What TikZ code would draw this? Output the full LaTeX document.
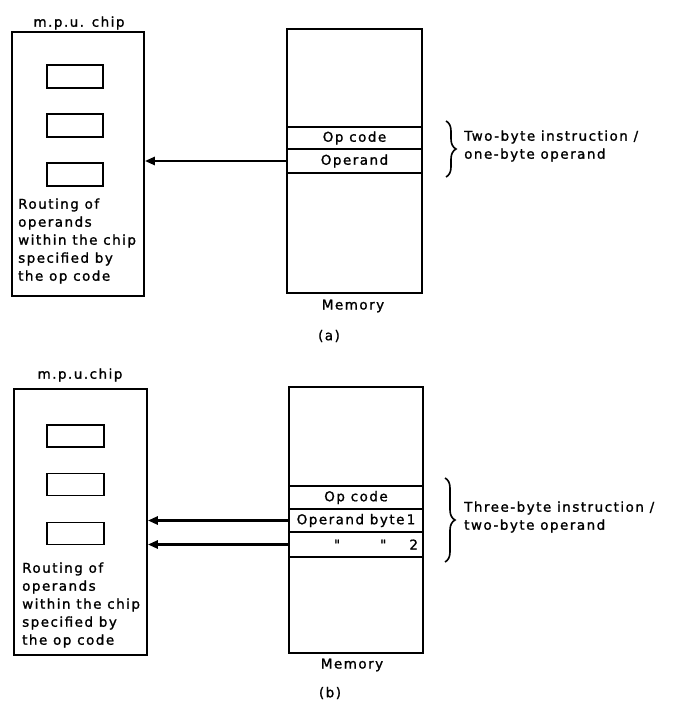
\documentclass[tikz,border=0pt]{standalone}
\usepackage{fontspec}
\newfontfamily\lbl{DejaVu Sans}[LetterSpace=11, FakeBold=1.3]
\usetikzlibrary{arrows.meta,positioning,decorations.pathreplacing}

\begin{document}
\begin{tikzpicture}[x=1pt, y=-1pt, >={Triangle[length=10pt,width=8pt]},
  font=\lbl\fontsize{13.5}{18}\selectfont,
  chip/.style={draw, line width=1.7pt, minimum width=132pt, minimum height=264pt},
  reg/.style={draw, line width=1.7pt, minimum width=56pt, minimum height=23pt},
  mem/.style={draw, line width=1.7pt, minimum width=135pt, minimum height=264pt},
  row/.style={draw, line width=1.7pt, minimum width=135pt, inner sep=0pt},
  note/.style={align=left, anchor=west, inner sep=0pt},
  bus/.style={->, line width=2.6pt},
  brc/.style={decorate, decoration={brace, amplitude=10pt}, line width=1.6pt}]
\useasboundingbox (0,0) rectangle (675,708);

% (a) two-byte instruction
\node (labA) at (79,23) {m.p.u. chip};
\node[chip] (chipA) at (78,164) {};
\node[reg] (rA1) at (75,76.5) {};
\node[reg] (rA2) at (75,125.5) {};
\node[reg] (rA3) at (75,174.5) {};
\node[note] (txtA) at (18,241) {Routing of\\ operands\\ within the chip\\ specified by\\ the op code};
\node[mem] (memA) at (354.5,161) {};
\node[row, minimum height=22pt] (opA) at (354.5,138) {Op code};
\node[row, minimum height=24pt] (oprA) at (354.5,161) {Operand};
\node (memlA) at (353,306) {Memory};
\node (capA) at (329,336) {(a)};
\draw[brc] (446,121) -- (446,177) coordinate (brA);
\node[note] (instA) at (464,146) {Two-byte instruction /\\ one-byte operand};
\draw[bus] (oprA.west) -- (chipA.east |- oprA.west);

% (b) three-byte instruction
\node (labB) at (80,375) {m.p.u.chip};
\node[chip, minimum width=133pt, minimum height=266pt] (chipB) at (80.5,522) {};
\node[reg, minimum width=57pt, minimum height=22pt] (rB1) at (75.5,436) {};
\node[reg, minimum width=57pt, minimum height=22pt] (rB2) at (75.5,484.5) {};
\node[reg, minimum width=57pt, minimum height=22pt] (rB3) at (75.5,533.5) {};
\node[note] (txtB) at (22,605) {Routing of\\ operands\\ within the chip\\ specified by\\ the op code};
\node[mem, minimum width=134pt, minimum height=266pt] (memB) at (356,520) {};
\node[row, minimum width=134pt, minimum height=23pt] (opB) at (356,497.5) {Op code};
\node[row, minimum width=134pt, minimum height=23pt] (b1B) at (356,520.5) {Operand byte\,1};
\node[row, minimum width=134pt, minimum height=25pt, text width=124pt, align=right] (b2B) at (356,544.5)
  {"\hspace{40pt}"\hspace{23pt}2};
\node (memlB) at (352,665) {Memory};
\node (capB) at (330,693) {(b)};
\draw[brc] (445,478) -- (445,562) coordinate (brB);
\node[note] (instB) at (464,517) {Three-byte instruction /\\ two-byte operand};
\draw[bus] (b1B.west) -- (chipB.east |- b1B.west);
\draw[bus] (b2B.west) -- (chipB.east |- b2B.west);
\end{tikzpicture}
\end{document}
